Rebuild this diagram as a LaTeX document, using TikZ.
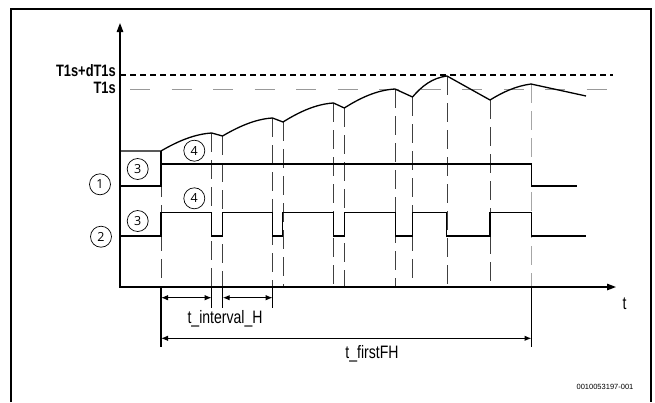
\documentclass[tikz,border=0pt]{standalone}
\usepackage{fontspec}
\setmainfont{Liberation Sans}
\newfontfamily\lblfont[FakeStretch=0.78]{Liberation Sans}
\newfontfamily\numfont{Open Sans}
\usetikzlibrary{arrows.meta}
\begin{document}
\begin{tikzpicture}[x=1pt,y=-1pt,
  sig/.style={line width=1.3pt,line join=miter},
  vdash/.style={line width=0.8pt,draw=black!75,dash pattern=on 19pt off 8pt},
  vdashlight/.style={line width=0.9pt,draw=black!35,dash pattern=on 19pt off 8pt},
  tick/.style={line width=1.1pt},
  dim/.style={line width=1.1pt,{Latex[length=7pt,width=5.5pt]}-{Latex[length=7pt,width=5.5pt]}},
  circnum/.style={draw,circle,line width=0.7pt,minimum size=21pt,inner sep=0pt,font=\numfont\fontsize{12.5}{13}\selectfont},
  biglbl/.style={font=\lblfont\bfseries\fontsize{16.5}{17}\selectfont,inner sep=0pt},
  smlbl/.style={font=\lblfont\fontsize{18}{18}\selectfont,inner sep=0pt}]
\useasboundingbox (0,0) rectangle (655,402);
% frame
\draw[line width=2pt] (11,402) -- (11,9) -- (651,9) -- (651,402);
% reference levels
\draw[line width=1.2pt,dash pattern=on 6pt off 4pt] (120,75) -- (613,75);
\draw[line width=1pt,draw=black!40,dash pattern=on 20pt off 21.5pt] (130,89.3) -- (622,89.3);
\node[biglbl,anchor=east] (ldT) at (116,71) {T1s+dT1s};
\node[biglbl,anchor=east] (lT) at (116,87.5) {T1s};
% vertical dashed guide lines
\foreach \x/\y in {161/151,211.7/133,222.5/136,272.5/118,283/122,333.5/103,344.3/108,395/89,412.5/97,447/76,490/100}
  \draw[vdash] (\x,\y) -- (\x,287);
\draw[vdashlight] (531,84) -- (531,287);
% temperature curve
\draw[line width=1.3pt,line join=round] (120,151) -- (161,151)
  .. controls (178,141) and (195,134) .. (211.7,133) -- (222.5,136)
  .. controls (238,127) and (255,119) .. (272.5,118) -- (283,122)
  .. controls (299,112) and (316,104) .. (333.5,103) -- (344.3,108)
  .. controls (360,98) and (377,90) .. (395,89) -- (412.5,97)
  .. controls (422,86) and (432,78) .. (447,76) -- (490,100)
  .. controls (503,92) and (516,86) .. (531,84) -- (586,96);
% signal 1
\draw[sig] (120,186) -- (161,186) -- (161,151);
\draw[sig] (161,164) -- (531.5,164) -- (531.5,186) -- (577,186);
% signal 2
\draw[sig] (120,236) -- (161,236) -- (161,212.3) -- (211.7,212.3) -- (211.7,236) -- (222.5,236)
  -- (222.5,212.3) -- (272.7,212.3) -- (272.7,236) -- (282.7,236) -- (282.7,212.3)
  -- (333.3,212.3) -- (333.3,236) -- (344.3,236) -- (344.3,212.3) -- (395.5,212.3)
  -- (395.5,236) -- (412.3,236) -- (412.3,212.3) -- (446.7,212.3) -- (446.7,236)
  -- (490,236) -- (490,212.3) -- (531.5,212.3) -- (531.5,236) -- (586,236);
% axes
\draw[line width=1.3pt,-{Triangle[length=9pt,width=6.5pt]}] (120,287) -- (120,23);
\draw[line width=1.3pt,-{Triangle[length=9pt,width=6.5pt]}] (119.35,287) -- (616,287);
\node[smlbl] (tlab) at (624.5,304) {t};
% circled numbers
\node[circnum] (c1) at (100,184.3) {1};
\node[circnum] (c2) at (101,236.7) {2};
\node[circnum] (c3a) at (137.7,169) {3};
\node[circnum] (c3b) at (137.7,221) {3};
\node[circnum] (c4a) at (194.3,150.7) {4};
\node[circnum] (c4b) at (194.3,198.3) {4};
% dimension ticks
\coordinate (d0) at (161,287);
\coordinate (d1) at (211.7,287);
\coordinate (d2) at (222.7,287);
\coordinate (d3) at (272.7,287);
\coordinate (d4) at (531.5,287);
\coordinate (a0) at (161,297.7);
\coordinate (a1) at (211.7,297.7);
\coordinate (a2) at (222.7,297.7);
\coordinate (a3) at (272.7,297.7);
\coordinate (b0) at (161,338.3);
\coordinate (b4) at (531.5,338.3);
\draw[tick] (d0) -- ++(0,60);
\draw[tick] (d1) -- ++(0,21);
\draw[tick] (d2) -- ++(0,21);
\draw[tick] (d3) -- ++(0,21);
\draw[tick] (d4) -- ++(0,60);
\draw[dim] (a0) -- (a1);
\draw[dim] (a2) -- (a3);
\draw[dim] (b0) -- (b4);
\node[smlbl] (lint) at (225,319) {t\_interval\_H};
\node[smlbl] (lfirst) at (372,354) {t\_firstFH};
\node[font=\fontsize{7.5}{8}\selectfont,inner sep=0pt] (code) at (605,387) {0010053197-001};
\end{tikzpicture}
\end{document}
